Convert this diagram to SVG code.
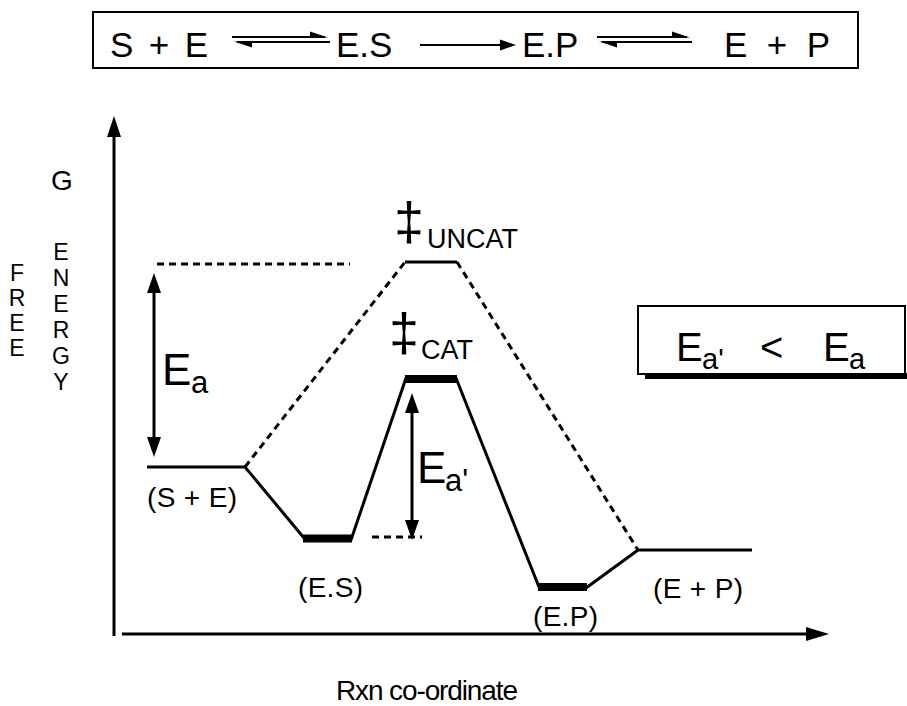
<svg xmlns="http://www.w3.org/2000/svg" width="907" height="706" viewBox="0 0 907 706">
<style>
text{font-family:"Liberation Sans",Arial,sans-serif;fill:#000}
.ln{stroke:#000;stroke-width:3;fill:none}
.dash{stroke:#000;stroke-width:3;fill:none;stroke-dasharray:7 5}
.bar{stroke:#000;stroke-width:8;fill:none}
.thin{stroke:#000;stroke-width:2;fill:none}
.hd{fill:#000}
.lbl{font-size:28px}
.big{font-size:44px}
.sub{font-size:31px}
.ts{font-size:27px}
.dag{font-size:54px}
</style>
<rect width="907" height="706" fill="#fff"/>

<g id="equation">
  <rect x="93" y="12" width="765" height="56" fill="#fff" stroke="#000" stroke-width="2"/>
  <text x="110" y="57" font-size="35" textLength="98">S + E</text>
  <line class="thin" x1="232" y1="37" x2="325" y2="37"/>
  <polygon class="hd" points="328,37.5 310,31.5 310,37.5"/>
  <line class="thin" x1="237" y1="42" x2="330" y2="42"/>
  <polygon class="hd" points="234,41.5 252,47.5 252,41.5"/>
  <text x="336" y="57" font-size="35">E.S</text>
  <line class="thin" x1="420" y1="45" x2="502" y2="45"/>
  <polygon class="hd" points="516,45 500,39.5 500,50.5"/>
  <text x="522" y="57" font-size="35">E.P</text>
  <line class="thin" x1="597" y1="37" x2="687" y2="37"/>
  <polygon class="hd" points="690,37.5 672,31.5 672,37.5"/>
  <line class="thin" x1="602" y1="42" x2="692" y2="42"/>
  <polygon class="hd" points="599,41.5 617,47.5 617,41.5"/>
  <text x="724" y="57" font-size="35" textLength="106">E + P</text>
</g>

<g id="axes">
  <line class="ln" x1="114" y1="636" x2="114" y2="132"/>
  <polygon class="hd" points="114,116 107,137 121,137"/>
  <line class="ln" x1="122" y1="634" x2="810" y2="634"/>
  <polygon class="hd" points="829,634 806,627 806,641"/>
</g>

<g id="y-label">
  <text x="62" y="190" font-size="28" text-anchor="middle">G</text>
  <g font-size="23" text-anchor="middle">
    <text x="61" y="260">E</text>
    <text x="61" y="286">N</text>
    <text x="61" y="312">E</text>
    <text x="61" y="338">R</text>
    <text x="61" y="364">G</text>
    <text x="61" y="390">Y</text>
    <text x="17" y="281">F</text>
    <text x="17" y="306">R</text>
    <text x="17" y="331">E</text>
    <text x="17" y="356">E</text>
  </g>
</g>

<g id="connectors">
  <polyline class="ln" points="147,467 245,467 304,538"/>
  <line class="bar" x1="303" y1="538.5" x2="352" y2="538.5"/>
  <line class="ln" x1="351" y1="540" x2="406" y2="378"/>
  <line class="bar" x1="405" y1="379" x2="457" y2="379"/>
  <line class="ln" x1="456" y1="378" x2="539" y2="587"/>
  <line class="bar" x1="538" y1="587" x2="587" y2="587"/>
  <polyline class="ln" points="586,588 638,550 752,550"/>
  <line class="dash" x1="245" y1="467" x2="405" y2="262"/>
  <line class="ln" x1="405" y1="262" x2="457" y2="262"/>
  <line class="dash" x1="457" y1="262" x2="638" y2="550"/>
  <line class="dash" x1="157" y1="264" x2="350" y2="264"/>
  <line class="dash" x1="372" y1="537" x2="422" y2="537"/>
  <line class="ln" x1="154" y1="290" x2="154" y2="440"/>
  <polygon class="hd" points="154,273 147,293 161,293"/>
  <polygon class="hd" points="154,457 147,437 161,437"/>
  <line class="ln" x1="412" y1="410" x2="412" y2="523"/>
  <polygon class="hd" points="412,393 405,413 419,413"/>
  <polygon class="hd" points="412,540 405,520 419,520"/>
</g>

<g id="ts-uncat">
  <text class="dag" x="394" y="240">‡</text>
  <text class="ts" x="427" y="248">UNCAT</text>
</g>
<g id="ts-cat">
  <text class="dag" x="389" y="351">‡</text>
  <text class="ts" x="421" y="359">CAT</text>
</g>

<g id="ea-label">
  <text class="big" x="162" y="385">E</text>
  <text class="sub" x="191" y="393">a</text>
</g>
<g id="ea2-label">
  <text class="big" x="417" y="483">E</text>
  <text class="sub" x="445" y="491">a'</text>
</g>

<g id="lbl-se"><text class="lbl" x="147" y="507" textLength="90">(S + E)</text></g>
<g id="lbl-es"><text class="lbl" x="298" y="597" textLength="65">(E.S)</text></g>
<g id="lbl-ep"><text class="lbl" x="533" y="626" textLength="65">(E.P)</text></g>
<g id="lbl-ep2"><text class="lbl" x="653" y="598" textLength="90">(E + P)</text></g>

<g id="x-label"><text x="336" y="700" font-size="28" textLength="182">Rxn co-ordinate</text></g>

<g id="compare-box">
  <rect x="645" y="373" width="262" height="6" fill="#000"/>
  <rect x="638" y="306" width="267" height="68" fill="#fff" stroke="#000" stroke-width="2"/>
  <text x="676" y="361" font-size="40">E</text>
  <text x="702" y="369" font-size="29">a'</text>
  <text x="760" y="361" font-size="40">&lt;</text>
  <text x="823" y="361" font-size="40">E</text>
  <text x="849" y="369" font-size="29">a</text>
</g>
</svg>
